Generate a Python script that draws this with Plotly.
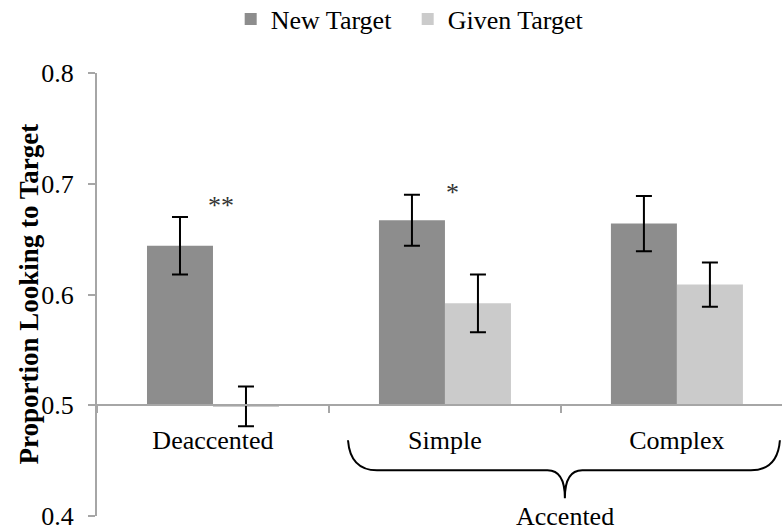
import plotly.graph_objects as go

categories = ["Deaccented", "Simple", "Complex"]
new_target = [0.644, 0.667, 0.664]
new_err = [0.026, 0.023, 0.025]
given_target = [0.499, 0.592, 0.609]
given_err = [0.018, 0.026, 0.020]
significance = ["**", "*", ""]
significance_y = [0.680, 0.692, None]
baseline = 0.5
y_ticks = [0.4, 0.5, 0.6, 0.7, 0.8]

FONT = "Liberation Serif, Times New Roman, serif"
FS = 26

fig = go.Figure()
fig.add_trace(go.Bar(
    name="New Target", x=categories, y=[v - baseline for v in new_target], base=baseline,
    marker=dict(color="#8d8d8d", line=dict(width=0)),
    error_y=dict(type="data", array=new_err, color="black", thickness=2, width=8),
))
fig.add_trace(go.Bar(
    name="Given Target", x=categories, y=[v - baseline for v in given_target], base=baseline,
    marker=dict(color="#cbcbcb", line=dict(width=0)),
    error_y=dict(type="data", array=given_err, color="black", thickness=2, width=8),
))

# significance markers
for i, (s, sy) in enumerate(zip(significance, significance_y)):
    if s:
        fig.add_annotation(x=i + 0.033, y=sy, xref="x", yref="y", text=s,
                           showarrow=False, font=dict(family=FONT, size=FS, color="#333"),
                           xanchor="center", yanchor="middle")

# brace under "Simple" and "Complex"
bx0, bx1, bxm = 0.582, 2.444, 1.517
yt, ym, yb = 0.4684, 0.4413, 0.4161
path = (f"M {bx0},{yt} Q {bx0+0.01},{ym} {bx0+0.125},{ym} L {bxm-0.075},{ym} "
        f"Q {bxm},{ym} {bxm},{yb} Q {bxm},{ym} {bxm+0.075},{ym} L {bx1-0.125},{ym} "
        f"Q {bx1-0.01},{ym} {bx1},{yt}")
fig.add_shape(type="path", path=path, xref="x", yref="y",
              line=dict(color="black", width=2))
fig.add_annotation(x=bxm, y=-0.002, xref="x", yref="paper", text="Accented",
                   showarrow=False, font=dict(family=FONT, size=FS, color="black"),
                   yanchor="middle")

# y-axis title
fig.add_annotation(x=-0.1007, y=0.5, xref="paper", yref="paper",
                   text="<b>Proportion Looking to Target</b>", textangle=-90,
                   showarrow=False, font=dict(family=FONT, size=27, color="black"),
                   xanchor="center", yanchor="middle")

fig.update_layout(
    width=782, height=531,
    margin=dict(l=97, r=0, t=73, b=15, autoexpand=False),
    plot_bgcolor="white", paper_bgcolor="white",
    barmode="group", bargap=0.431, bargroupgap=0,
    font=dict(family=FONT, size=FS, color="black"),
    showlegend=True,
    legend=dict(orientation="h", xref="container", yref="container",
                x=0.295, xanchor="left", y=0.964, yanchor="middle", entrywidth=132,
                font=dict(family=FONT, size=FS), bgcolor="rgba(0,0,0,0)"),
    xaxis=dict(type="category", range=[-0.5, 2.453], anchor="free", position=0.25,
               showline=True, linecolor="#a6a6a6", linewidth=2,
               ticks="outside", tickson="boundaries", ticklen=7, tickcolor="#a6a6a6",
               tickwidth=2, ticklabelstandoff=12, showgrid=False, zeroline=False),
    yaxis=dict(range=[0.4, 0.8], tickvals=y_ticks, tickformat=".1f",
               showline=True, linecolor="#a6a6a6", linewidth=2,
               ticks="outside", ticklen=7, tickcolor="#a6a6a6", tickwidth=2,
               ticklabelstandoff=9, ticklabeloverflow="allow",
               showgrid=False, zeroline=False),
)

fig.write_html("out.html", config={"displayModeBar": False},
               post_script="document.body.style.margin='0';")
